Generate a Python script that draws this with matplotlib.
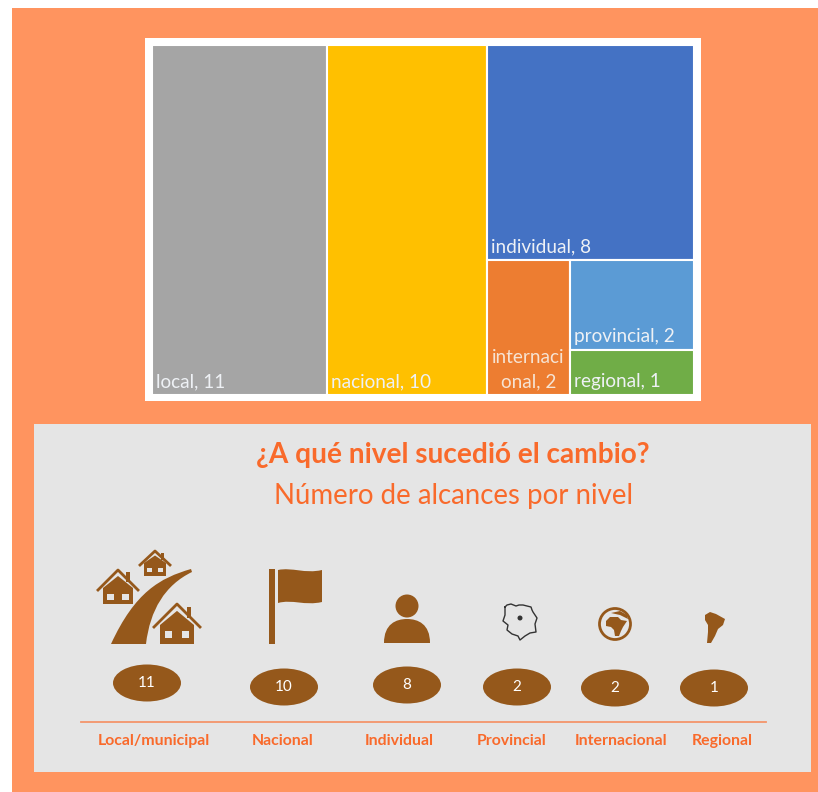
import numpy as np
from matplotlib import pyplot as plt
from matplotlib.patches import Rectangle, Ellipse, Circle, Polygon, PathPatch
from matplotlib.path import Path

plt.rcParams['font.family'] = ['Lato', 'DejaVu Sans']

# treemap data
tree_names = ['local', 'nacional', 'individual', 'internacional', 'provincial', 'regional']
tree_values = [11, 10, 8, 2, 2, 1]
tree_colors = ['#A5A5A5', '#FFC000', '#4472C4', '#ED7D31', '#5B9BD5', '#70AD47']

# infographic data
level_labels = ['Local/municipal', 'Nacional', 'Individual', 'Provincial', 'Internacional', 'Regional']
level_counts = [11, 10, 8, 2, 2, 1]

BROWN = '#95581B'
ORANGE = '#F96A2B'

fig = plt.figure(figsize=(8.18, 7.92), dpi=100, facecolor='white')
ax = fig.add_axes([0, 0, 1, 1])
ax.set_xlim(0, 818)
ax.set_ylim(792, 0)
ax.axis('off')

ax.add_patch(Rectangle((12, 8), 806, 784, fc='#FF945F', ec='none'))
ax.add_patch(Rectangle((145, 38), 556, 363, fc='white', ec='none'))
ax.add_patch(Rectangle((34, 424), 777, 348, fc='#E5E5E5', ec='none'))

# treemap: layout comes from the values
X0, X1, Y0, Y1 = 152, 694, 45, 395
total = sum(tree_values)
per_unit = (X1 - X0) / total
w_local = tree_values[0] * per_unit
w_nac = tree_values[1] * per_unit
rest = sum(tree_values[2:])
x_rest = X0 + w_local + w_nac
w_rest = X1 - x_rest
h_ind = (Y1 - Y0) * tree_values[2] / rest
low = sum(tree_values[3:])
w_int = w_rest * tree_values[3] / low
h_prov = (Y1 - Y0 - h_ind) * tree_values[4] / (tree_values[4] + tree_values[5])
boxes = [
    (X0, Y0, w_local, Y1 - Y0),
    (X0 + w_local, Y0, w_nac, Y1 - Y0),
    (x_rest, Y0, w_rest, h_ind),
    (x_rest, Y0 + h_ind, w_int, Y1 - Y0 - h_ind),
    (x_rest + w_int, Y0 + h_ind, w_rest - w_int, h_prov),
    (x_rest + w_int, Y0 + h_ind + h_prov, w_rest - w_int, Y1 - Y0 - h_ind - h_prov),
]
for i, (x, y, w, h) in enumerate(boxes):
    ax.add_patch(Rectangle((x, y), w, h, fc=tree_colors[i], ec='white', lw=1.5))
    txt = f'{tree_names[i]}, {tree_values[i]}'
    if tree_names[i] == 'internacional':
        ax.text(x + w / 2, y + h - 5, 'internaci\nonal, 2', color='#F6E3D3', fontsize=13.7,
                ha='center', va='bottom', linespacing=1.5)
    else:
        ax.text(x + 4, y + h - 5, txt, color='#EEF1F5', fontsize=13.7, ha='left', va='bottom')

ax.text(453, 455, '¿A qué nivel sucedió el cambio?', color=ORANGE, fontsize=20.2,
        fontweight='bold', ha='center', va='center')
ax.text(453, 496, 'Número de alcances por nivel', color=ORANGE, fontsize=19.9,
        ha='center', va='center')


def house(apex_x, apex_y, half, eave_y, body, base):
    ax.add_patch(Polygon([(apex_x - body, eave_y - 2), (apex_x, apex_y + half * 0.3), (apex_x + body, eave_y - 2),
                          (apex_x + body, base), (apex_x - body, base)], fc=BROWN, ec='none'))
    ax.plot([apex_x - half, apex_x, apex_x + half], [eave_y, apex_y, eave_y], color=BROWN, lw=2)
    win = body * 0.42
    for s in (-1, 1):
        ax.add_patch(Rectangle((apex_x + s * body * 0.5 - win / 2, eave_y + (base - eave_y) * 0.25), win, win,
                               fc='#E5E5E5', ec='none'))
    ax.add_patch(Rectangle((apex_x + half * 0.42, apex_y + half * 0.12), half * 0.2, half * 0.5, fc=BROWN, ec='none'))


# local icon
house(118, 570, 20, 590, 15, 604)
house(155, 551, 15, 565, 11, 576)
house(177, 604, 23, 627, 17, 644)
road = [(111, 644), (135, 592), (160, 578), (191, 569), (192, 572), (165, 585), (150, 610), (146, 644), (111, 644)]
codes = [Path.MOVETO, Path.CURVE4, Path.CURVE4, Path.CURVE4, Path.LINETO, Path.CURVE4, Path.CURVE4, Path.CURVE4,
         Path.CLOSEPOLY]
ax.add_patch(PathPatch(Path(road, codes), fc=BROWN, ec='none'))

# national flag
ax.add_patch(Rectangle((269, 569), 6, 75, fc=BROWN, ec='none'))
flag = [(278, 570), (292, 567), (305, 574), (322, 570), (322, 602), (305, 606), (292, 599), (278, 603), (278, 570)]
flag_codes = [Path.MOVETO, Path.CURVE4, Path.CURVE4, Path.CURVE4, Path.LINETO, Path.CURVE4, Path.CURVE4, Path.CURVE4,
              Path.CLOSEPOLY]
ax.add_patch(PathPatch(Path(flag, flag_codes), fc=BROWN, ec='none'))

# person
ax.add_patch(Circle((407, 606), 11.5, fc=BROWN, ec='none'))
body = [(384, 643), (384, 624), (396, 619), (407, 619), (418, 619), (430, 624), (430, 643), (384, 643)]
body_codes = [Path.MOVETO, Path.CURVE4, Path.CURVE4, Path.CURVE4, Path.CURVE4, Path.CURVE4, Path.CURVE4,
              Path.CLOSEPOLY]
ax.add_patch(PathPatch(Path(body, body_codes), fc=BROWN, ec='none'))

# province outline
prov_x = [505, 507, 511, 516, 519, 523, 531, 532, 533, 537, 535, 536, 530, 525, 520, 518, 512, 507, 508, 503, 505, 505]
prov_y = [607, 605, 604, 606, 605, 605, 607, 610, 612, 618, 624, 632, 633, 636, 640, 636, 634, 630, 625, 621, 615, 607]
ax.plot(prov_x, prov_y, color='#333333', lw=1)
ax.add_patch(Circle((520, 618), 2.5, fc='#333333', ec='none'))

# globe
ax.add_patch(Circle((615, 624), 15.5, fc='none', ec=BROWN, lw=2))
africa = [(606, 621), (610, 617), (618, 617), (621, 620), (627, 621), (623, 627), (621, 631), (619, 636), (615, 636),
          (614, 630), (611, 627), (606, 626)]
ax.add_patch(Polygon(africa, fc=BROWN, ec='none'))
ax.add_patch(Polygon([(611, 613), (620, 611), (627, 615), (628, 619), (620, 615)], fc=BROWN, ec='none'))

# south america
samerica = [(705, 615), (710, 612), (716, 614), (725, 619), (723, 625), (718, 629), (715, 636), (711, 643),
            (707, 643), (708, 632), (708, 625), (705, 620)]
ax.add_patch(Polygon(samerica, fc=BROWN, ec='none'))

# count ovals and labels
oval_x = [147, 284, 407, 517, 615, 714]
oval_y = [683, 687, 685, 687, 688, 688]
label_x = [154, 283, 399, 512, 621, 722]
for i in range(len(level_counts)):
    ax.add_patch(Ellipse((oval_x[i], oval_y[i]), 68, 37, fc=BROWN, ec='none'))
    ax.text(oval_x[i], oval_y[i], str(level_counts[i]), color='white', fontsize=11, ha='center', va='center')
    ax.text(label_x[i], 741, level_labels[i], color=ORANGE, fontsize=11.4, fontweight='bold',
            ha='center', va='center')

ax.plot([81, 766], [722, 722], color='#F4956B', lw=1.3)

plt.savefig('out.png', dpi=100)
